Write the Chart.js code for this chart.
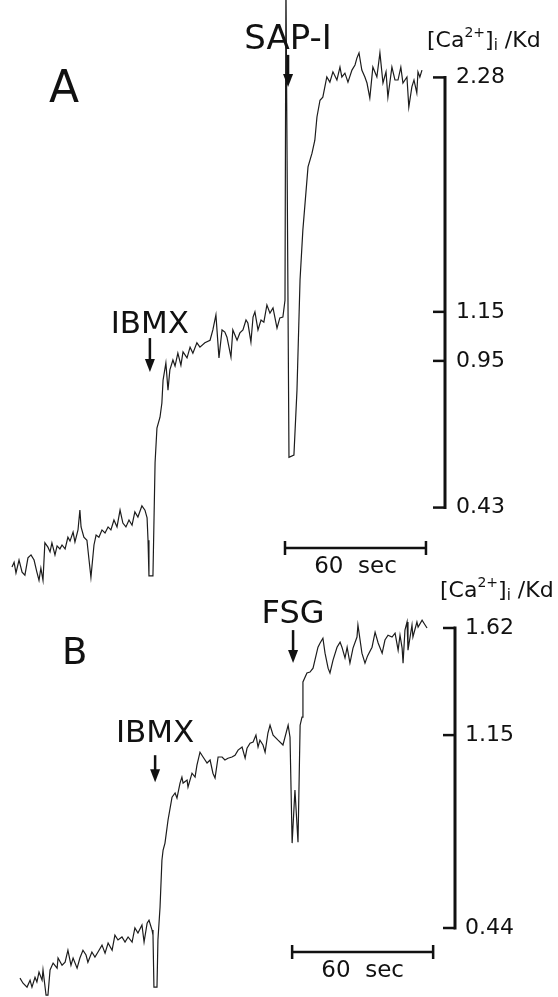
<!DOCTYPE html>
<html>
<head>
<meta charset="utf-8">
<title>[Ca2+]i traces</title>
<script src="https://cdn.jsdelivr.net/npm/chart.js@4.4.1/dist/chart.umd.min.js"></script>
<style>
  body { margin: 0; background: #fff; }
  canvas { position: absolute; left: 0; }
</style>
</head>
<body>
<canvas id="panelA" width="558" height="585" style="top:0"></canvas>
<canvas id="panelB" width="558" height="432" style="top:565px"></canvas>
<script>
// Trace A: time (s) and fluorescence signal (0 = 0.43, 100 = 2.28 [Ca2+]i/Kd)
const timeA = [5.1, 6.0, 6.8, 8.1, 9.4, 10.6, 11.9, 13.2, 14.5, 15.7,
  16.6, 17.4, 18.3, 19.1, 20.4, 21.3, 22.1, 23.4, 24.3, 25.5,
  26.4, 27.7, 28.9, 29.8, 31.1, 31.9, 33.2, 34.0, 34.5, 35.7,
  37.0, 37.9, 38.7, 40.0, 40.9, 42.1, 43.4, 44.7, 46.0, 47.2,
  48.5, 49.8, 51.1, 52.3, 53.6, 54.9, 56.2, 57.4, 58.7, 60.4,
  61.7, 62.6, 63.0, 63.4, 65.1, 66.0, 66.8, 68.1, 68.9, 69.4,
  70.6, 71.5, 72.3, 73.6, 74.5, 75.7, 77.0, 77.9, 79.6, 80.9,
  82.1, 83.8, 85.1, 87.2, 89.4, 90.6, 91.9, 93.2, 94.5, 95.7,
  96.6, 98.3, 99.1, 100.9, 102.1, 103.4, 104.7, 105.5, 106.8, 107.7,
  108.5, 109.8, 111.1, 112.3, 113.6, 114.9, 116.2, 117.9, 119.1, 120.4,
  121.3, 121.7, 123.0, 125.1, 126.4, 127.7, 128.9, 131.1, 132.8, 134.0,
  134.9, 136.2, 137.4, 139.1, 140.4, 141.7, 143.4, 144.7, 145.5, 146.8,
  148.1, 149.8, 151.1, 151.9, 152.8, 154.0, 155.3, 156.2, 157.4, 158.7,
  160.4, 161.7, 163.0, 164.3, 165.1, 166.8, 168.1, 169.4, 170.6, 171.5,
  173.2, 174.0, 175.3, 176.2, 177.4, 177.9, 178.7, 179.6];
const signalA = [-13.8, -12.7, -15.2, -12.2, -15.0, -15.7, -11.7, -11.0, -12.2, -15.0,
  -16.9, -14.1, -16.9, -8.2, -9.2, -10.3, -8.2, -11.0, -8.9, -9.6,
  -8.7, -9.6, -6.9, -7.8, -5.7, -8.0, -5.2, -0.6, -4.5, -6.9,
  -7.6, -12.2, -16.2, -8.7, -6.4, -6.9, -5.2, -5.9, -4.5, -5.2,
  -2.9, -4.5, -0.6, -3.6, -4.5, -2.9, -4.1, -1.0, -2.2, 0.4,
  -0.6, -2.4, -7.6, -15.9, -15.9, 10.4, 18.5, 21.0, 24.3, 29.6,
  33.6, 27.3, 32.0, 34.3, 32.9, 35.9, 33.1, 36.2, 34.8, 37.3,
  35.9, 38.3, 37.3, 38.3, 38.9, 41.3, 44.8, 34.8, 41.3, 40.8,
  39.6, 35.0, 41.3, 38.9, 40.6, 41.3, 43.6, 42.9, 38.5, 44.3,
  45.5, 41.3, 43.6, 43.1, 47.1, 45.2, 46.4, 41.7, 44.1, 44.3,
  48.2, 122.6, 11.7, 12.2, 27.3, 52.9, 64.5, 79.2, 82.4, 85.4,
  90.8, 94.7, 95.4, 100.1, 98.9, 101.3, 99.4, 102.4, 100.1, 101.0,
  98.9, 101.7, 102.9, 104.5, 105.7, 101.7, 100.1, 98.7, 95.2, 102.4,
  100.1, 105.7, 98.7, 101.3, 95.4, 102.4, 99.4, 99.4, 102.4, 98.7,
  100.1, 93.1, 97.8, 99.4, 96.4, 101.3, 100.1, 101.7];
const tickValuesA = [0, 34.1, 45.5, 100];
const tickLabelsA = ['0.43', '0.95', '1.15', '2.28'];
const eventLabelsA = ['IBMX', 'SAP-I'];
const eventTimesA = [63.8, 122.6];
const eventLevelsA = [31.5, 97.8];

// Trace B: time (s) and fluorescence signal (0 = 0.44, 100 = 1.62 [Ca2+]i/Kd)
const timeB = [8.5, 9.8, 11.5, 12.8, 13.6, 14.9, 15.7, 16.6, 17.9, 18.3,
  19.6, 20.4, 21.3, 22.6, 24.3, 24.7, 26.4, 27.7, 28.9, 30.2,
  31.1, 32.8, 34.0, 35.3, 36.6, 37.4, 39.1, 40.4, 41.7, 43.4,
  44.7, 46.0, 47.7, 48.9, 50.2, 51.9, 53.2, 54.5, 56.2, 57.4,
  58.7, 60.4, 61.3, 62.6, 63.4, 64.7, 65.1, 65.5, 66.8, 67.2,
  68.1, 68.9, 69.4, 70.2, 71.5, 73.2, 74.5, 75.3, 76.6, 77.4,
  77.9, 79.6, 80.0, 81.7, 83.0, 83.8, 85.1, 86.4, 88.1, 89.4,
  90.6, 91.5, 92.8, 94.5, 95.7, 97.0, 98.7, 100.0, 101.3, 103.0,
  104.3, 105.1, 106.4, 107.7, 108.9, 109.8, 110.6, 111.9, 112.8, 114.0,
  114.9, 116.2, 118.3, 120.4, 122.6, 123.4, 124.3, 125.5, 126.8, 127.7,
  128.5, 128.9, 130.6, 131.9, 133.2, 134.0, 135.3, 136.2, 137.4, 138.3,
  139.6, 140.4, 141.7, 143.4, 144.7, 145.5, 146.8, 147.7, 148.9, 150.2,
  151.9, 152.3, 154.0, 155.3, 156.2, 156.6, 158.3, 159.6, 160.9, 162.6,
  163.8, 165.1, 166.8, 168.1, 169.4, 170.2, 171.1, 171.5, 172.3, 173.2,
  173.6, 175.3, 175.7, 177.4, 177.9, 179.6, 180.4, 181.7];
const signalB = [-16.7, -18.4, -19.7, -17.4, -19.7, -16.4, -18.0, -14.7, -17.4, -14.0,
  -22.4, -22.4, -14.0, -11.7, -13.4, -10.0, -12.4, -11.4, -7.4, -12.4,
  -10.0, -13.4, -10.0, -7.4, -9.0, -11.4, -8.0, -9.7, -8.0, -5.7,
  -8.4, -5.0, -7.4, -2.4, -4.0, -3.0, -4.7, -3.0, -4.7, 0.0,
  -1.7, 1.0, -4.7, 1.6, 2.6, -0.7, -2.4, -19.7, -19.7, -4.0,
  7.0, 22.6, 26.0, 28.3, 36.0, 43.6, 45.0, 43.3, 48.3, 50.3,
  48.3, 49.3, 47.0, 51.6, 50.3, 54.3, 58.6, 57.0, 55.0, 56.0,
  51.6, 50.0, 57.0, 57.0, 56.0, 56.6, 57.0, 57.6, 59.3, 60.3,
  56.6, 59.9, 61.6, 62.0, 64.3, 60.3, 62.6, 61.0, 58.6, 65.0,
  67.6, 64.3, 62.6, 61.0, 67.6, 63.6, 28.3, 46.0, 28.6, 67.6,
  70.3, 82.0, 85.0, 85.3, 86.6, 89.3, 93.6, 95.0, 96.6, 91.6,
  86.6, 85.0, 89.3, 93.6, 95.3, 93.6, 90.0, 93.6, 88.3, 93.3,
  97.0, 101.0, 91.6, 88.3, 90.3, 91.0, 93.6, 98.6, 95.0, 91.6,
  96.0, 97.6, 97.0, 98.3, 92.6, 97.6, 93.3, 88.3, 99.3, 102.0,
  92.6, 101.0, 97.0, 102.0, 100.3, 102.6, 101.6, 100.0];
const tickValuesB = [0, 64.3, 100];
const tickLabelsB = ['0.44', '1.15', '1.62'];
const eventLabelsB = ['IBMX', 'FSG'];
const eventTimesB = [66.0, 124.7];
const eventLevelsB = [48.6, 88.3];

const FONT = '"DejaVu Sans", "Liberation Sans", sans-serif';
const INK = '#111';

function drawArrow(ctx, x, tip, len) {
  ctx.lineWidth = 2.5;
  ctx.beginPath();
  ctx.moveTo(x, tip - len);
  ctx.lineTo(x, tip - 10);
  ctx.stroke();
  ctx.beginPath();
  ctx.moveTo(x - 5, tip - 13);
  ctx.lineTo(x + 5, tip - 13);
  ctx.lineTo(x, tip);
  ctx.closePath();
  ctx.fill();
}

// "[Ca2+]i /Kd" with raised charge and subscript i
function drawUnit(ctx, x, y) {
  let cx = x;
  const part = (txt, size, dy) => {
    ctx.font = size + 'px ' + FONT;
    ctx.fillText(txt, cx, y + dy);
    cx += ctx.measureText(txt).width;
  };
  part('[Ca', 22, 0);
  part('2+', 14, -10);
  part(']', 22, 0);
  part('i', 15, 3);
  part(' /Kd', 22, 0);
}

// arrows, calibration bar, time bar and labels for one panel
function makeDecor(cfg) {
  return {
    id: 'traceDecor',
    afterDraw(chart) {
      const ctx = chart.ctx;
      const xs = chart.scales.x;
      const ys = chart.scales.y;
      ctx.save();
      ctx.strokeStyle = INK;
      ctx.fillStyle = INK;
      ctx.lineCap = 'butt';

      // vertical [Ca2+] calibration bar with inward ticks
      const ax = ys.left;
      const yTop = ys.getPixelForValue(cfg.tickValues[cfg.tickValues.length - 1]);
      const yBot = ys.getPixelForValue(cfg.tickValues[0]);
      ctx.lineWidth = 3;
      ctx.beginPath();
      ctx.moveTo(ax, yTop - 1.5);
      ctx.lineTo(ax, yBot + 1.5);
      ctx.stroke();
      ctx.lineWidth = 2.5;
      cfg.tickValues.forEach(v => {
        const py = ys.getPixelForValue(v);
        ctx.beginPath();
        ctx.moveTo(ax - 12, py);
        ctx.lineTo(ax, py);
        ctx.stroke();
      });

      // stimulus arrows
      ctx.textAlign = 'center';
      ctx.textBaseline = 'alphabetic';
      cfg.eventLabels.forEach((lbl, i) => {
        const x = xs.getPixelForValue(cfg.eventTimes[i]);
        const tip = ys.getPixelForValue(cfg.eventLevels[i]);
        const a = cfg.arrows[i];
        drawArrow(ctx, x, tip, a.len);
        ctx.font = a.size + 'px ' + FONT;
        ctx.fillText(lbl, x, tip - a.len - a.gap);
      });

      // 60 s time bar
      const x0 = xs.getPixelForValue(cfg.barStart);
      const x1 = xs.getPixelForValue(cfg.barStart + 60);
      const by = cfg.barY;
      ctx.lineWidth = 2.5;
      ctx.beginPath();
      ctx.moveTo(x0, by);
      ctx.lineTo(x1, by);
      ctx.moveTo(x0, by - 7);
      ctx.lineTo(x0, by + 7);
      ctx.moveTo(x1, by - 7);
      ctx.lineTo(x1, by + 7);
      ctx.stroke();
      ctx.font = '23px ' + FONT;
      ctx.fillText('60  sec', (x0 + x1) / 2, cfg.barTextY);

      // panel letter and unit label
      ctx.textAlign = 'left';
      ctx.font = cfg.letterSize + 'px ' + FONT;
      ctx.fillText(cfg.letter, cfg.letterX, cfg.letterY);
      drawUnit(ctx, cfg.unitX, cfg.unitY);
      ctx.restore();
    }
  };
}

function drawPanel(canvasId, cfg) {
  new Chart(document.getElementById(canvasId), {
    type: 'line',
    data: {
      datasets: [{
        data: cfg.times.map((t, i) => ({ x: t, y: cfg.values[i] })),
        borderColor: '#1c1c1c',
        borderWidth: 1.2,
        pointRadius: 0,
        tension: 0,
        fill: false
      }]
    },
    options: {
      responsive: false,
      animation: false,
      events: [],
      layout: { padding: 0 },
      plugins: { legend: { display: false }, tooltip: { enabled: false } },
      scales: {
        x: { type: 'linear', display: false, min: 0, max: cfg.xMax },
        y: {
          position: 'right',
          min: cfg.yMin,
          max: cfg.yMax,
          grid: { display: false, drawTicks: false },
          border: { display: false },
          afterFit: s => { s.width = cfg.axisWidth; s.paddingTop = 0; s.paddingBottom = 0; },
          afterBuildTicks: s => { s.ticks = cfg.tickValues.map(v => ({ value: v })); },
          ticks: {
            autoSkip: false,
            padding: cfg.tickPad,
            color: INK,
            font: { family: 'DejaVu Sans', size: 22 },
            callback: (v, i) => cfg.tickLabels[i]
          }
        }
      }
    },
    plugins: [makeDecor(cfg)]
  });
}

drawPanel('panelA', {
  times: timeA, values: signalA,
  tickValues: tickValuesA, tickLabels: tickLabelsA,
  eventLabels: eventLabelsA, eventTimes: eventTimesA, eventLevels: eventLevelsA,
  arrows: [{ len: 34, gap: 5, size: 31 }, { len: 32, gap: 6, size: 34 }],
  xMax: 189.4, yMin: -18, yMax: 118, axisWidth: 113, tickPad: 11,
  barStart: 121.3, barY: 548, barTextY: 573,
  letter: 'A', letterSize: 44, letterX: 49, letterY: 102,
  unitX: 427, unitY: 47
});

drawPanel('panelB', {
  times: timeB, values: signalB,
  tickValues: tickValuesB, tickLabels: tickLabelsB,
  eventLabels: eventLabelsB, eventTimes: eventTimesB, eventLevels: eventLevelsB,
  arrows: [{ len: 27, gap: 13, size: 31 }, { len: 33, gap: 7, size: 32 }],
  xMax: 193.6, yMin: -23, yMax: 121, axisWidth: 103, tickPad: 10,
  barStart: 124.3, barY: 387, barTextY: 412,
  letter: 'B', letterSize: 37, letterX: 62, letterY: 99,
  unitX: 440, unitY: 32
});
</script>
</body>
</html>
